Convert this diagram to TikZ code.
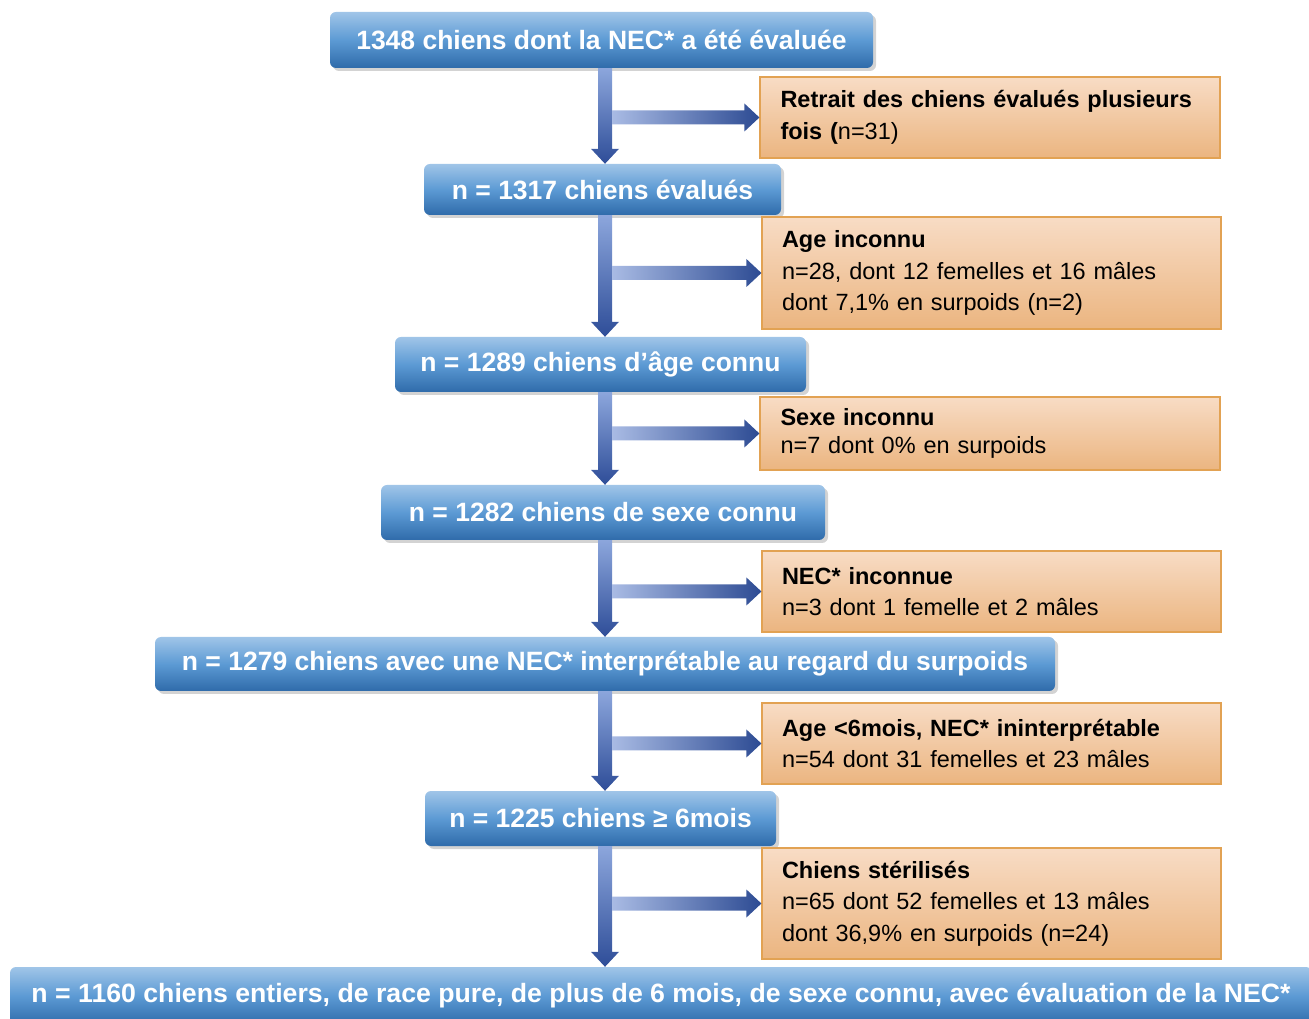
\documentclass[tikz,border=0pt]{standalone}
\usepackage{fontspec}
\setmainfont{Liberation Sans}
\usepackage{graphicx}
\usetikzlibrary{shadows,calc}
\definecolor{bluetop}{HTML}{A0C5E8}
\definecolor{bluemid}{HTML}{5C9AD4}
\definecolor{bluebot}{HTML}{2F6BAA}
\definecolor{orgtop}{HTML}{F8DCC5}
\definecolor{orgbot}{HTML}{EBB580}
\definecolor{orgline}{HTML}{E2A253}
\definecolor{vlight}{HTML}{8CA6DC}
\definecolor{vdark}{HTML}{2E4D98}
\definecolor{hlight}{HTML}{A9BBE4}
\definecolor{hmid}{HTML}{4F77C9}
\definecolor{hdark}{HTML}{2D4B93}
\tikzset{
  bluebox/.style={rounded corners=6pt, top color=bluetop, bottom color=bluebot, middle color=bluemid,
    text=white, font=\fontsize{26.5}{30}\selectfont\bfseries, inner sep=0pt, align=center,
    drop shadow={opacity=0.35, shadow xshift=3pt, shadow yshift=-3pt}},
  orgbox/.style={draw=orgline, line width=1.2pt, top color=orgtop, bottom color=orgbot,
    text=black, font=\fontsize{23.5}{31.5}\selectfont, inner xsep=20pt, inner ysep=0pt, align=left,
    text width=#1},
  orgbox/.default=419pt
}
\newcommand\varrow[2]{%
  \shade[top color=vlight,bottom color=vdark] let \p1=(#1.south), \p2=(#2.north), \p3=(spine) in
    ({\x3-7},\y1) -- ({\x3+7},\y1) -- ({\x3+7},{\y2+15}) -- ({\x3+14},{\y2+15}) -- (\x3,\y2)
    -- ({\x3-14},{\y2+15}) -- ({\x3-7},{\y2+15}) -- cycle;}
\newcommand\harrow[1]{%
  \shade[left color=hlight, middle color=hmid, right color=hdark] let \p1=(#1.west), \p3=(spine) in
    ({\x3+7},{\y1-7}) -- ({\x1-15},{\y1-7}) -- ({\x1-15},{\y1-14}) -- (\x1,\y1)
    -- ({\x1-15},{\y1+14}) -- ({\x1-15},{\y1+7}) -- ({\x3+7},{\y1+7}) -- cycle;}
\begin{document}
\begin{tikzpicture}[x=1pt,y=1pt]
\useasboundingbox (0,0) rectangle (1309,1018);
\coordinate (spine) at (605,0);
% blue boxes
\node[bluebox, minimum width=543pt, minimum height=56pt] (b1) at (601.5,978) {1348 chiens dont la NEC* a été évaluée};
\node[bluebox, minimum width=357pt, minimum height=51pt] (b2) at (602.5,828.5) {n = 1317 chiens évalués};
\node[bluebox, minimum width=411pt, minimum height=55pt] (b3) at (600.5,653.5) {n = 1289 chiens d’âge connu};
\node[bluebox, minimum width=444pt, minimum height=55pt] (b4) at (603,505.5) {n = 1282 chiens de sexe connu};
\node[bluebox, minimum width=900pt, minimum height=54pt] (b5) at (605,354) {n = 1279 chiens avec une NEC* interprétable au regard du surpoids};
\node[bluebox, minimum width=351pt, minimum height=55pt] (b6) at (600.5,199.5) {n = 1225 chiens ≥ 6mois};
\node[bluebox, minimum width=1302pt, minimum height=58pt] (b7) at (661,22) {\resizebox{1259pt}{\height}{n = 1160 chiens entiers, de race pure, de plus de 6 mois, de sexe connu, avec évaluation de la NEC*}};
% orange boxes
\node[orgbox, minimum width=460pt, minimum height=81pt] (o1) at (990,900.5) {\textbf{Retrait des chiens évalués plusieurs}\\\textbf{fois (}n=31)};
\node[orgbox, minimum width=459pt, minimum height=112pt] (o2) at (991.5,745) {\textbf{Age inconnu}\\n=28, dont 12 femelles et 16 mâles\\dont 7,1\% en surpoids (n=2)};
\node[orgbox, minimum width=460pt, minimum height=73pt, font=\fontsize{23.5}{28.5}\selectfont] (o3) at (990,584.5) {\textbf{Sexe inconnu}\\n=7 dont 0\% en surpoids};
\node[orgbox, minimum width=459pt, minimum height=81pt] (o4) at (991.5,426.5) {\textbf{NEC* inconnue}\\n=3 dont 1 femelle et 2 mâles};
\node[orgbox, minimum width=459pt, minimum height=81pt] (o5) at (991.5,274.5) {\textbf{Age <6mois, NEC* ininterprétable}\\n=54 dont 31 femelles et 23 mâles};
\node[orgbox, minimum width=459pt, minimum height=111pt] (o6) at (991.5,114.5) {\textbf{Chiens stérilisés}\\n=65 dont 52 femelles et 13 mâles\\dont 36,9\% en surpoids (n=24)};
% arrows
\varrow{b1}{b2}
\varrow{b2}{b3}
\varrow{b3}{b4}
\varrow{b4}{b5}
\varrow{b5}{b6}
\varrow{b6}{b7}
\harrow{o1}
\harrow{o2}
\harrow{o3}
\harrow{o4}
\harrow{o5}
\harrow{o6}
\end{tikzpicture}
\end{document}
